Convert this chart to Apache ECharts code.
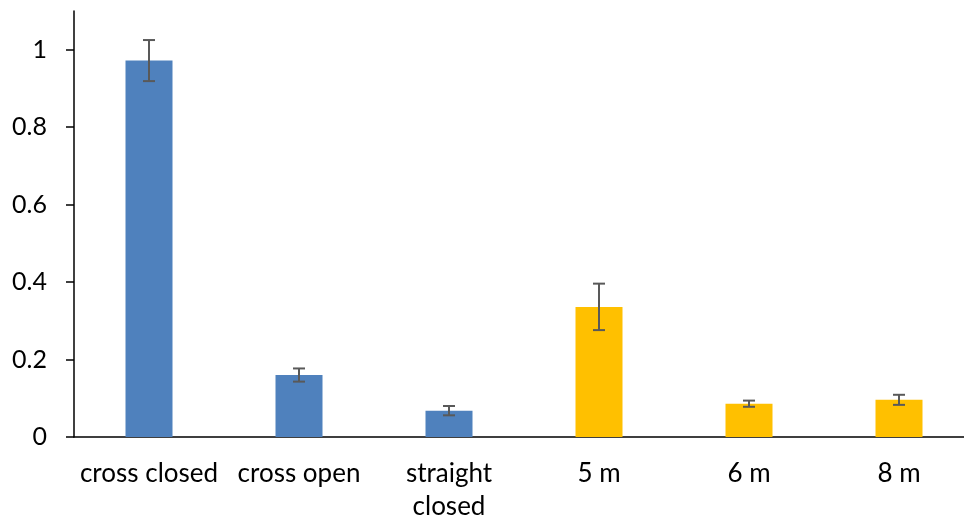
<!DOCTYPE html>
<html>
<head>
<meta charset="utf-8">
<script src="https://cdn.jsdelivr.net/npm/echarts@6/dist/echarts.min.js"></script>
<style>
  html, body { margin: 0; padding: 0; background: #fff; }
  #chart { width: 964px; height: 517px; }
</style>
</head>
<body>
<div id="chart"></div>
<script>
// Mean values per condition with their error (± half-range)
const categories = ['cross closed', 'cross open', 'straight\nclosed', '5 m', '6 m', '8 m'];
const means = [0.972, 0.160, 0.068, 0.336, 0.086, 0.096];
const errors = [0.053, 0.017, 0.012, 0.060, 0.008, 0.013];
const groups = ['shape', 'shape', 'shape', 'distance', 'distance', 'distance'];
const yTicks = [0, 0.2, 0.4, 0.6, 0.8, 1];

const groupColors = { shape: '#4F81BD', distance: '#FFC000' };

const barData = means.map((v, i) => ({
  value: v,
  itemStyle: { color: groupColors[groups[i]] }
}));
const errData = means.map((v, i) => [i, v - errors[i], v + errors[i]]);

const chart = echarts.init(document.getElementById('chart'), null, { renderer: 'canvas' });
chart.setOption({
  animation: false,
  backgroundColor: '#fff',
  grid: { left: 74, right: -10, top: 11, bottom: 80, containLabel: false, outerBoundsMode: 'none' },
  xAxis: {
    type: 'category',
    data: categories,
    axisLine: { lineStyle: { color: '#000', width: 1.5 } },
    axisTick: { show: false },
    axisLabel: {
      color: '#000',
      fontFamily: 'Lato',
      fontSize: 26,
      margin: 20,
      lineHeight: 33,
      interval: 0
    }
  },
  yAxis: {
    type: 'value',
    min: 0,
    max: 1.1,
    interval: 0.2,
    splitLine: { show: false },
    axisLine: { show: true, lineStyle: { color: '#000', width: 1.5 } },
    axisTick: { show: true, length: 8, customValues: yTicks, lineStyle: { color: '#000', width: 1.5 } },
    axisLabel: {
      color: '#000',
      fontFamily: 'Lato',
      fontSize: 25,
      margin: 27,
      customValues: yTicks,
      formatter: v => String(+v.toFixed(1))
    }
  },
  series: [
    {
      type: 'bar',
      data: barData,
      barWidth: 47
    },
    {
      type: 'custom',
      data: errData,
      z: 5,
      renderItem: (params, api) => {
        const x = api.value(0);
        const lo = api.coord([x, api.value(1)]);
        const hi = api.coord([x, api.value(2)]);
        const cap = 6;
        const style = { stroke: '#595959', lineWidth: 2 };
        return {
          type: 'group',
          children: [
            { type: 'line', shape: { x1: hi[0], y1: hi[1], x2: lo[0], y2: lo[1] }, style },
            { type: 'line', shape: { x1: hi[0] - cap, y1: hi[1], x2: hi[0] + cap, y2: hi[1] }, style },
            { type: 'line', shape: { x1: lo[0] - cap, y1: lo[1], x2: lo[0] + cap, y2: lo[1] }, style }
          ]
        };
      }
    }
  ]
});
</script>
</body>
</html>
